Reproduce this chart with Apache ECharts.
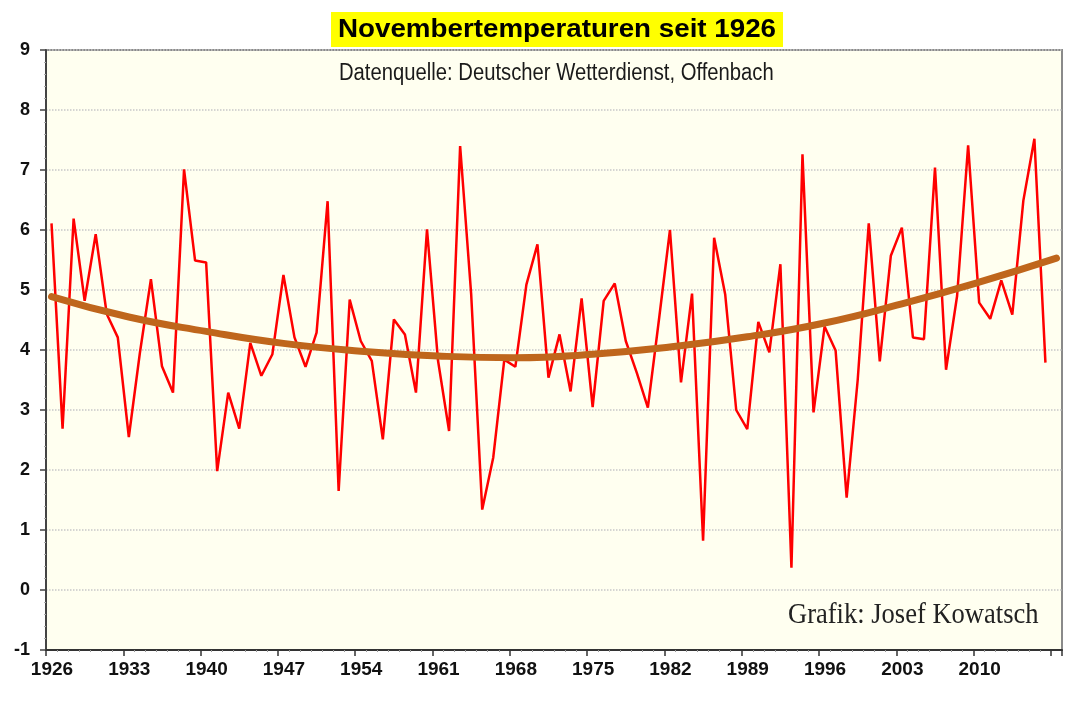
<!DOCTYPE html>
<html>
<head>
<meta charset="utf-8">
<script src="https://cdn.jsdelivr.net/npm/echarts@6/dist/echarts.min.js"></script>
<style>
  html, body { margin: 0; padding: 0; background: #fff; }
  #chart { width: 1074px; height: 702px; }
</style>
</head>
<body>
<div id="chart"></div>
<script>
// November mean temperature (°C), 1926 - 2016
const firstYear = 1926;
const temps = [
  6.11, 2.69, 6.19, 4.82, 5.93, 4.6, 4.21, 2.55, 3.95, 5.18,
  3.73, 3.29, 7.01, 5.49, 5.46, 1.98, 3.29, 2.69, 4.12, 3.57,
  3.93, 5.25, 4.21, 3.72, 4.29, 6.48, 1.65, 4.84, 4.15, 3.82,
  2.51, 4.51, 4.26, 3.29, 6.01, 3.82, 2.65, 7.40, 4.93, 1.34,
  2.21, 3.84, 3.72, 5.09, 5.76, 3.54, 4.26, 3.31, 4.86, 3.05,
  4.82, 5.11, 4.15, 3.62, 3.04, 4.5, 6.0, 3.46, 4.94, 0.82,
  5.87, 4.93, 3.0, 2.68, 4.47, 3.96, 5.43, 0.37, 7.26, 2.96,
  4.39, 3.99, 1.54, 3.5, 6.11, 3.81, 5.57, 6.04, 4.21, 4.18,
  7.04, 3.67, 4.9, 7.41, 4.79, 4.52, 5.16, 4.59, 6.49, 7.52,
  3.79
];

// polynomial trend, every 7 years
const trendYears = [1926, 1933, 1940, 1947, 1954, 1961, 1968, 1975, 1982, 1989, 1996, 2003, 2010, 2017];
const trendValues = [4.89, 4.55, 4.31, 4.11, 3.98, 3.9, 3.87, 3.93, 4.05, 4.22, 4.45, 4.77, 5.13, 5.53];

const xTickLabels = [1926, 1933, 1940, 1947, 1954, 1961, 1968, 1975, 1982, 1989, 1996, 2003, 2010];

const years = Array.from({ length: 92 }, (_, i) => firstYear + i); // 1926..2017
const trendSeries = years.map((y) => {
  const k = trendYears.indexOf(y);
  return k >= 0 ? trendValues[k] : null;
});

const chart = echarts.init(document.getElementById('chart'), null, { renderer: 'canvas' });

const option = {
  backgroundColor: '#ffffff',
  animation: false,
  graphic: [
    {
      type: 'rect',
      shape: { x: 331, y: 12, width: 452, height: 35 },
      style: { fill: '#FFFF00' },
      z: 10
    },
    {
      type: 'text',
      x: 338, y: 30,
      scaleX: 1.11,
      style: {
        text: 'Novembertemperaturen seit 1926',
        font: 'bold 25px "Liberation Sans", Arial, sans-serif',
        fill: '#000',
        textVerticalAlign: 'middle'
      },
      z: 11
    },
    {
      type: 'text',
      x: 339, y: 74,
      scaleX: 0.88,
      style: {
        text: 'Datenquelle: Deutscher Wetterdienst, Offenbach',
        font: '23px "Liberation Sans", Arial, sans-serif',
        fill: '#1a1a1a',
        textVerticalAlign: 'middle'
      },
      z: 11
    },
    {
      type: 'text',
      x: 788, y: 615,
      scaleX: 0.915,
      style: {
        text: 'Grafik: Josef Kowatsch',
        font: '29px "Liberation Serif", "Times New Roman", serif',
        fill: '#222',
        textVerticalAlign: 'middle'
      },
      z: 11
    }
  ],
  grid: {
    left: 46,
    right: 12,
    top: 50,
    bottom: 52,
    show: true,
    backgroundColor: '#FFFFF0',
    borderColor: '#8a8a8a',
    borderWidth: 2
  },
  xAxis: [
    {
      type: 'category',
      data: years,
      boundaryGap: true,
      position: 'bottom',
      axisLine: { show: true, onZero: false, lineStyle: { color: '#333', width: 2 } },
      axisTick: { show: false },
      axisLabel: { show: false },
      splitLine: { show: false }
    },
    {
      type: 'value',
      min: 1926,
      max: 2018,
      interval: 7,
      position: 'bottom',
      axisLine: { show: false, onZero: false },
      axisTick: { show: true, length: 6, lineStyle: { color: '#333', width: 1.5 } },
      minorTick: { show: true, splitNumber: 7, length: 2, lineStyle: { color: '#999' } },
      axisLabel: {
        margin: 10,
        padding: [0, 0, 0, 12],
        fontFamily: 'Liberation Sans, Arial',
        fontSize: 19,
        fontWeight: 'bold',
        color: '#111',
        formatter: (v) => (xTickLabels.indexOf(v) >= 0 ? String(v) : '')
      },
      splitLine: { show: false }
    }
  ],
  yAxis: {
    type: 'value',
    min: -1,
    max: 9,
    interval: 1,
    axisLine: { show: true, lineStyle: { color: '#444', width: 2 } },
    axisTick: { show: true, length: 6, lineStyle: { color: '#444', width: 1.5 } },
    minorTick: { show: true, splitNumber: 5, length: 2, lineStyle: { color: '#aaa' } },
    axisLabel: {
      margin: 16,
      fontFamily: 'Liberation Sans, Arial',
      fontSize: 18,
      fontWeight: 'bold',
      color: '#111'
    },
    splitLine: { show: true, lineStyle: { color: '#c8c8c8', type: 'dotted', width: 1.5 } }
  },
  series: [
    {
      name: 'November',
      type: 'line',
      xAxisIndex: 0,
      data: temps,
      showSymbol: false,
      symbol: 'none',
      lineStyle: { color: '#FF0000', width: 2.5 },
      z: 3
    },
    {
      name: 'Trend',
      type: 'line',
      xAxisIndex: 0,
      data: trendSeries,
      connectNulls: true,
      smooth: true,
      showSymbol: false,
      symbol: 'none',
      lineStyle: { color: '#BF661C', width: 7, cap: 'round' },
      z: 4
    }
  ]
};

chart.setOption(option);
</script>
</body>
</html>
